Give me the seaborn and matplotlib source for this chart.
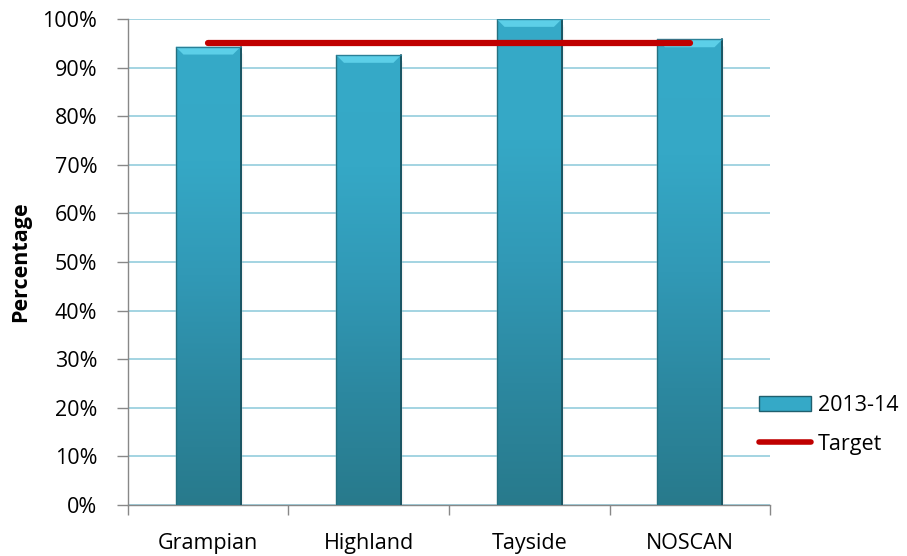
import numpy as np
import pandas as pd
import matplotlib
matplotlib.use("Agg")
import matplotlib.pyplot as plt
from matplotlib.patches import Polygon, Patch
from matplotlib.lines import Line2D
from matplotlib.colors import LinearSegmentedColormap
import seaborn as sns

regions = ["Grampian", "Highland", "Tayside", "NOSCAN"]
rate_2013_14 = [94.3, 92.6, 100.0, 95.8]
target = [95, 95, 95, 95]
y_ticks = [0, 10, 20, 30, 40, 50, 60, 70, 80, 90, 100]

sns.set_theme(style="white")
plt.rcParams["font.family"] = ["Open Sans", "DejaVu Sans"]
plt.rcParams["text.color"] = "black"
FS = 15.5

df = pd.DataFrame({"Region": regions, "Value": rate_2013_14})

fig = plt.figure(figsize=(9.07, 5.56), dpi=100)
ax = fig.add_axes([0.141, 0.0917, 0.708, 0.874])

sns.barplot(data=df, x="Region", y="Value", ax=ax, width=0.405,
            color="#35a9c7", saturation=1, zorder=3)

# vertical shading inside each bar
body_cmap = LinearSegmentedColormap.from_list(
    "body", ["#287a8c", "#2c88a0", "#3199b6", "#35a8c6", "#36aac8"])
grad = np.linspace(0, 1, 256).reshape(-1, 1)
for p in ax.patches:
    x0, y0 = p.get_x(), p.get_y()
    w, h = p.get_width(), p.get_height()
    im = ax.imshow(grad, extent=[x0, x0 + w, y0, y0 + h], origin="lower",
                   cmap=body_cmap, aspect="auto", zorder=3.1)
    im.set_clip_path(p)
    # soft drop shadow
    for k, a in enumerate([0.06, 0.04, 0.02]):
        ax.add_patch(plt.Rectangle((x0 + 0.006 * (k + 1), y0 - 0.25 * (k + 1)),
                                   w, h - 0.8, color="#000000", alpha=a,
                                   zorder=2.9, lw=0))
    # dark rims on the sides
    ax.plot([x0 + w, x0 + w], [y0, y0 + h], color="#1b5563", lw=1.4, zorder=3.3)
    ax.plot([x0, x0], [y0, y0 + h], color="#24707f", lw=1.0, zorder=3.3)
    # bevelled top
    bev = 1.6
    dx = w * 0.12
    ax.add_patch(Polygon([[x0, y0 + h], [x0 + w, y0 + h],
                          [x0 + w - dx, y0 + h - bev], [x0 + dx, y0 + h - bev]],
                         closed=True, color="#5ccfe8", lw=0, zorder=3.4))
    ax.plot([x0, x0 + w], [y0 + h, y0 + h], color="#2a8097", lw=1.0, zorder=3.5)
ax.set_xlim(-0.5, len(regions) - 0.5)
ax.set_ylim(0, 100)

# target line across the categories
ax.plot(range(len(regions)), target, color="#c00000", lw=4.5,
        solid_capstyle="round", zorder=4)

ax.set_yticks(y_ticks)
ax.set_yticklabels([f"{t}%" for t in y_ticks], fontsize=FS, color="black")
ax.yaxis.grid(True, color="#a3d4e2", lw=1.4, zorder=0)
ax.set_axisbelow(True)

ax.set_xticks(np.arange(-0.5, len(regions), 1.0))
ax.set_xticklabels([""] * (len(regions) + 1))
ax.set_xticks(range(len(regions)), minor=True)
ax.set_xticklabels(regions, minor=True, fontsize=FS, color="black")
ax.tick_params(axis="x", which="major", length=7, width=1, color="#888888",
               direction="out", bottom=True)
ax.tick_params(axis="x", which="minor", length=0, pad=20)
ax.tick_params(axis="y", length=8, width=1, color="#888888", direction="out",
               left=True, pad=14)
ax.set_xlabel("")
ax.set_ylabel("Percentage", fontsize=FS, fontweight="bold", labelpad=8,
              color="black")

for s in ["top", "right"]:
    ax.spines[s].set_visible(False)
for s in ["left", "bottom"]:
    ax.spines[s].set_color("#888888")
    ax.spines[s].set_linewidth(1)

handles = [Patch(facecolor="#35a9c7", edgecolor="#1f5f6e", label="2013-14"),
           Line2D([0], [0], color="#c00000", lw=4, solid_capstyle="round",
                  label="Target")]
fig.legend(handles=handles, loc="upper left", bbox_to_anchor=(0.816, 0.325),
           frameon=False, fontsize=FS, handlelength=2.4, handleheight=0.7,
           handletextpad=0.3, labelspacing=0.85)

fig.savefig("out.png", dpi=100)
